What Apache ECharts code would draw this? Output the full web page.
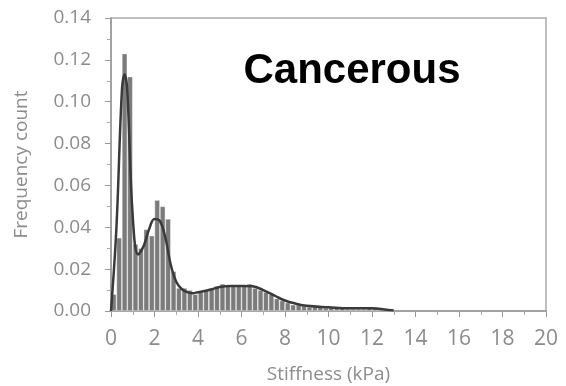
<!DOCTYPE html>
<html lang="en">
  <head>
    <meta charset="utf-8" />
    <title>Cancerous stiffness histogram</title>
    <script src="https://cdn.jsdelivr.net/npm/echarts@6/dist/echarts.min.js"></script>
    <style type="text/css">
      * {
        margin: 0;
        padding: 0;
      }
      html,
      body,
      #chart {
        width: 566px;
        height: 386px;
        overflow: hidden;
        background: #fff;
      }
    </style>
  </head>
  <body>
    <div id="chart"></div>
    <script type="text/javascript">
      // histogram bins, 0.25 kPa wide (bin centres)
      var binCenters = [
        0.125, 0.375, 0.625, 0.875, 1.125, 1.375, 1.625, 1.875, 2.125, 2.375,
        2.625, 2.875, 3.125, 3.375, 3.625, 3.875, 4.125, 4.375, 4.625, 4.875,
        5.125, 5.375, 5.625, 5.875, 6.125, 6.375, 6.625, 6.875, 7.125, 7.375,
        7.625, 7.875, 8.125, 8.375, 8.625, 8.875, 9.125, 9.375, 9.625, 9.875,
        10.125, 10.375, 10.625, 10.875, 11.125, 11.375, 11.625, 11.875,
        12.125, 12.375, 12.625, 12.875
      ];
      var binCounts = [
        0.008, 0.035, 0.123, 0.112, 0.032, 0.03, 0.039, 0.036, 0.053, 0.05,
        0.044, 0.019, 0.011, 0.011, 0.01, 0.008, 0.009, 0.01, 0.011, 0.012,
        0.013, 0.012, 0.012, 0.012, 0.012, 0.013, 0.011, 0.01, 0.009, 0.008,
        0.006, 0.005, 0.004, 0.003, 0.003, 0.0025, 0.002, 0.002, 0.002, 0.0015,
        0.002, 0.0015, 0.0015, 0.001, 0.001, 0.001, 0.001, 0.0015,
        0.002, 0.0015, 0.001, 0.0005
      ];

      // fitted curve
      var fitX = [
        0, 0.25, 0.5, 0.625, 0.75, 1, 1.25, 1.5, 1.75, 2, 2.25, 2.5, 2.75, 3,
        3.25, 3.5, 3.75, 4, 4.5, 5, 5.5, 6, 6.5, 7, 7.5, 8, 8.5, 9, 10, 11, 12,
        12.5, 13
      ];
      var fitY = [
        0.0, 0.04, 0.105, 0.113, 0.105, 0.045, 0.027, 0.031, 0.039, 0.044,
        0.043, 0.035, 0.022, 0.014, 0.0105, 0.009, 0.0085, 0.009, 0.01, 0.0115,
        0.012, 0.012, 0.0118, 0.01, 0.0075, 0.005, 0.0035, 0.0025, 0.0018,
        0.0013, 0.0013, 0.0008, 0.0003
      ];

      var chart = echarts.init(document.getElementById("chart"));

      var gray = "#8c8c8c";
      var labelFont = "'Open Sans', sans-serif";

      chart.setOption({
        animation: false,
        title: {
          text: "Cancerous",
          left: 347,
          top: 45,
          textAlign: "center",
          textStyle: {
            fontFamily: "'Liberation Sans', Arial, sans-serif",
            fontWeight: "bold",
            fontSize: 42,
            color: "#000",
          },
        },
        grid: {
          left: 111,
          right: 20,
          top: 18,
          bottom: 75,
          outerBoundsMode: "none",
          show: true,
          borderColor: "#aaa",
          borderWidth: 1.5,
        },
        xAxis: {
          type: "value",
          min: 0,
          max: 20,
          interval: 2,
          name: "Stiffness (kPa)",
          nameLocation: "middle",
          nameGap: 54,
          nameTextStyle: { color: gray, fontSize: 19, fontFamily: labelFont },
          axisLine: { lineStyle: { color: "#999", width: 1.5 } },
          axisTick: { length: 6, lineStyle: { color: "#999" } },
          minorTick: {
            show: true,
            splitNumber: 2,
            length: 4,
            lineStyle: { color: "#aaa" },
          },
          axisLabel: {
            color: gray,
            fontSize: 21,
            fontFamily: labelFont,
            margin: 18,
          },
          splitLine: { show: false },
        },
        yAxis: {
          type: "value",
          min: 0,
          max: 0.14,
          interval: 0.02,
          name: "Frequency count",
          nameLocation: "middle",
          nameGap: 80,
          nameTextStyle: { color: gray, fontSize: 19, fontFamily: labelFont },
          axisLine: { show: true, lineStyle: { color: "#999", width: 1.5 } },
          axisTick: { show: true, length: 6, lineStyle: { color: "#999" } },
          minorTick: {
            show: true,
            splitNumber: 2,
            length: 4,
            lineStyle: { color: "#aaa" },
          },
          axisLabel: {
            color: gray,
            fontSize: 19,
            fontFamily: labelFont,
            margin: 20,
            formatter: function (v) {
              return v.toFixed(2);
            },
          },
          splitLine: { show: false },
        },
        series: [
          {
            type: "bar",
            data: binCenters.map(function (x, i) {
              return [x, binCounts[i]];
            }),
            barWidth: 5.4,
            itemStyle: {
              color: "#7b7b7b",
              borderColor: "rgba(255,255,255,0.7)",
              borderWidth: 0.6,
            },
          },
          {
            type: "line",
            data: fitX.map(function (x, i) {
              return [x, fitY[i]];
            }),
            smooth: 0.4,
            showSymbol: false,
            lineStyle: { color: "#3a3a3a", width: 2.5 },
            z: 3,
          },
        ],
      });
    </script>
  </body>
</html>
